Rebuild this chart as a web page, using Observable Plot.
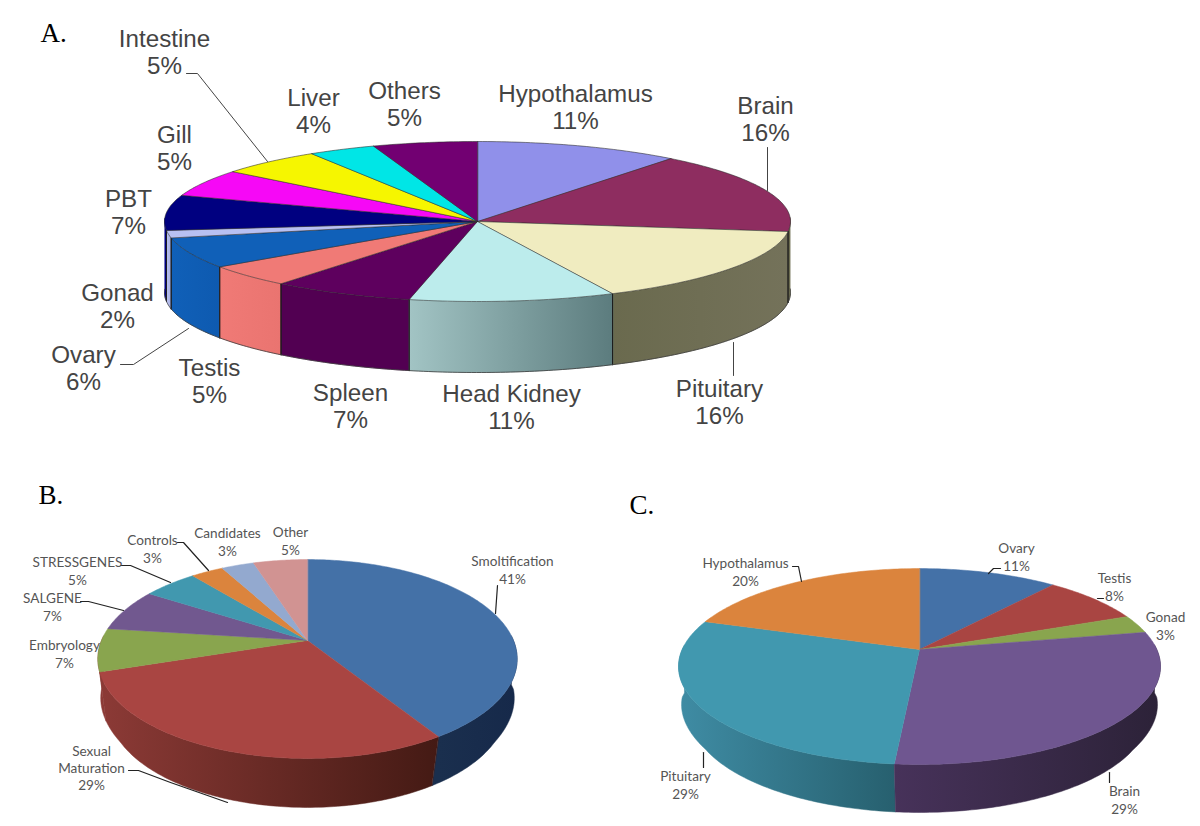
<!DOCTYPE html>
<html>
<head>
<meta charset="utf-8">
<style>html,body{margin:0;padding:0;background:#fff}svg{display:block}</style>
<script src="https://cdn.jsdelivr.net/npm/d3@7"></script>
<script src="https://cdn.jsdelivr.net/npm/@observablehq/plot@0.6"></script>
</head>
<body>
<script>
const aCategories = ["Hypothalamus","Brain","Pituitary","Head Kidney","Spleen","Testis","Ovary","Gonad","PBT","Gill","Intestine","Liver","Others"];
const aValues     = [10.6,16.4,15.9,10.6,7.3,4.6,6.3,1.5,7.1,5.4,5.4,3.5,5.4];
const bCategories = ["Smoltification","Sexual Maturation","Embryology","SALGENE","STRESSGENES","Controls","Candidates","Other"];
const bValues     = [41,29,7,7,5,3,3,5];
const cCategories = ["Ovary","Testis","Gonad","Brain","Pituitary","Hypothalamus"];
const cValues     = [11,8,3,29.4,28.6,20];

// ---- styles ----
const aTop  = ["#9090ea","#8e2d60","#f0ecc0","#bcecec","#5e005e","#f07a76","#1060b8","#b8c0f2","#000080","#f608f6","#f6f600","#00e6e6","#720072"];
const aWall = [["#9090ea","#9090ea"],["#6a6a4e","#6a6a4e"],["#6a6a4e","#74725a"],["#a2c4c4","#5c7c7e"],["#520052","#520052"],["#f07a76","#ea7470"],["#1060b8","#0e5ab0"],["#b8c0f2","#a8b0e0"],["#000080","#000080"],["#f608f6","#f608f6"],["#f6f600","#f6f600"],["#00e6e6","#00e6e6"],["#720072","#720072"]];
const bTop  = ["#4471a7","#a94542","#89a54e","#71588f","#4198af","#db843d","#93a9cf","#d19392"];
const bWall = [["#1a2f4e","#16294a"],["#8c3a36","#441a14"],["#8c3a36","#8c3a36"],["#56436e","#56436e"],["#327688","#327688"],["#a96430","#a96430"],["#7080a0","#7080a0"],["#a07070","#a07070"]];
const cTop  = ["#4471a7","#a94542","#89a54e","#6f5690","#4198af","#db843d"];
const cWall = [["#1a2f4e","#1a2f4e"],["#5a2422","#5a2422"],["#445226","#445226"],["#47325a","#2c2238"],["#3f8ca4","#27606f"],["#a96430","#a96430"]];

// ---- layout ----
const geomA = {cx:477,cy:221,sx:313,sy:80,k:0,depth:71,taper:0};
const geomB = {cx:307,cy:640,sx:206,sy:96,k:0.186,depth:49,taper:0.1};
const geomC = {cx:919,cy:649,sx:237.3,sy:95,k:0.1736,depth:48,taper:0.1};

const aLabelX = [575,765,719,511,350,209,83,117,128,174,164,313,404];
const aLabelY = [107,119,402,407,406,381,368,306,212,148,52,111,104];
const bLabelX = [512,91,64,52,77,152,227,290];
const bLabelY = [569,767,653,606,570,548,541,540];
const cLabelX = [1016,1114,1165,1124,685,745];
const cLabelY = [556,586,625,799,784,571];

const leaders = [
  [[186,73],[197,73],[267,161]],
  [[767,147],[767,190]],
  [[733,342],[733,375]],
  [[120,364],[133,364],[188,328]],
  [[177,542],[183,542],[208,570]],
  [[120,565],[130,565],[170,582]],
  [[80,601],[88,601],[123,610]],
  [[128,770],[138,770],[170,782],[227,802]],
  [[497,585],[495,613]],
  [[792,566],[798,566],[801,581]],
  [[703,752],[703,767]],
  [[1000,568],[993,568],[988,573]],
  [[1103,598],[1097,598]],
  [[1109,772],[1109,782]]
];
const panelLetters = [{t:"A.",x:40,y:33},{t:"B.",x:38,y:495},{t:"C.",x:629,y:505}];

// ---- geometry: fraction of the pie -> plot position under a tilted-disc view ----
function project(g, f, lower) {
  const th = 2 * Math.PI * f, u = Math.sin(th), v = -Math.cos(th), w = 1 - g.k * v;
  const X = u / w * (lower ? 1 - g.taper * Math.min(Math.max(v, 0), 0.5) : 1), Y = v / w;
  return {x: g.cx + g.sx * X, y: g.cy + g.sy * Y + (lower ? g.depth : 0), v};
}
let id = 0;
const gradients = [];
function buildPie(values, top, wall, g, edged) {
  const total = d3.sum(values);
  const tops = [], wallGroups = [], seams = [], rims = [];
  let acc = 0;
  values.forEach((val, i) => {
    const f0 = acc / total, f1 = (acc + val) / total; acc += val;
    const n = Math.max(2, Math.ceil((f1 - f0) * 400));
    const fs = d3.range(n + 1).map(j => f0 + (f1 - f0) * j / n);
    // top face
    const tid = id++;
    const stroke = edged ? "#2a2a2a" : top[i];
    tops.push({id: tid, x: g.cx, y: g.cy, fill: top[i], stroke});
    fs.forEach(f => { const p = project(g, f, false); tops.push({id: tid, x: p.x, y: p.y, fill: top[i], stroke}); });
    // side wall: the front-facing part of the slice, shaded left to right
    const front = fs.filter(f => project(g, f, false).v > -0.05);
    if (front.length > 1) {
      const upper = front.map(f => project(g, f, false)), lower = front.map(f => project(g, f, true));
      const xs = upper.map(p => p.x);
      const gid = "wall-" + gradients.length;
      gradients.push({id: gid, x1: d3.min(xs), x2: d3.max(xs), c1: wall[i][0], c2: wall[i][1]});
      const wid = id++, order = d3.mean(upper, p => p.v);
      wallGroups.push({order, pts: [...upper, ...lower.reverse()].map(p => ({id: wid, x: p.x, y: p.y, fill: `url(#${gid})`}))});
      const rid = id++;
      front.forEach(f => { const q = project(g, f, true); rims.push({id: rid, x: q.x, y: q.y}); });
      [f0, f1].forEach(f => {
        const p = project(g, f, false);
        if (p.v > 0) { const q = project(g, f, true), s = id++; seams.push({id: s, x: p.x, y: p.y}, {id: s, x: q.x, y: q.y}); }
      });
    }
  });
  wallGroups.sort((a, b) => a.order - b.order);
  return {tops, walls: wallGroups.flatMap(d => d.pts), seams, rims};
}

const pieA = buildPie(aValues, aTop, aWall, geomA, true);
const pieB = buildPie(bValues, bTop, bWall, geomB, false);
const pieC = buildPie(cValues, cTop, cWall, geomC, false);

const pct = v => Math.round(v) + "%";
const labelsA = aCategories.map((n, i) => ({t: n + "\n" + pct(aValues[i]), x: aLabelX[i], y: aLabelY[i]}));
const labelsBC = [
  ...bCategories.map((n, i) => ({t: n.replace("Sexual ", "Sexual\n") + "\n" + pct(bValues[i]), x: bLabelX[i], y: bLabelY[i]})),
  ...cCategories.map((n, i) => ({t: n + "\n" + pct(cValues[i]), x: cLabelX[i], y: cLabelY[i]}))
];
const leaderPts = leaders.flatMap((pts, i) => pts.map(p => ({id: i, x: p[0], y: p[1]})));

const poly = (data, extra = {}) => Plot.line(data, {x: "x", y: "y", z: "id", curve: "linear-closed", fill: "fill", ...extra});

// gradient definitions placed through the plot's own x scale
const gradientDefs = (index, scales) => {
  const defs = d3.create("svg:defs");
  const grads = defs.selectAll("linearGradient").data(gradients).join("linearGradient")
    .attr("id", d => d.id).attr("gradientUnits", "userSpaceOnUse")
    .attr("x1", d => scales.x(d.x1)).attr("x2", d => scales.x(d.x2)).attr("y1", 0).attr("y2", 0);
  grads.append("stop").attr("offset", 0).attr("stop-color", d => d.c1);
  grads.append("stop").attr("offset", 1).attr("stop-color", d => d.c2);
  return defs.node();
};

const chart = Plot.plot({
  width: 1200, height: 826, margin: 0,
  x: {domain: [0, 1200], range: [0, 1200], axis: null},
  y: {domain: [0, 826], range: [0, 826], axis: null},
  color: {type: "identity"},
  style: {background: "#fff"},
  marks: [
    gradientDefs,
    poly([...pieA.walls, ...pieB.walls, ...pieC.walls], {stroke: "fill", strokeWidth: 0.5}),
    Plot.line(pieA.seams, {x: "x", y: "y", z: "id", stroke: "#1c1c1c", strokeWidth: 0.9}),
    Plot.line(pieA.rims, {x: "x", y: "y", z: "id", stroke: "#3a3a3a", strokeWidth: 0.8}),
    poly(pieB.tops, {stroke: "stroke", strokeWidth: 0.5}),
    poly(pieC.tops, {stroke: "stroke", strokeWidth: 0.5}),
    poly(pieA.tops, {stroke: "stroke", strokeWidth: 0.7, strokeOpacity: 0.8}),
    Plot.line(leaderPts.filter(d => d.id < 4), {x: "x", y: "y", z: "id", stroke: "#444", strokeWidth: 1}),
    Plot.line(leaderPts.filter(d => d.id >= 4), {x: "x", y: "y", z: "id", stroke: "#222", strokeWidth: 1.2}),
    Plot.text(labelsA, {x: "x", y: "y", text: "t", fontFamily: "Liberation Sans", fontSize: 24.2, lineHeight: 1.12, fill: "#444", lineAnchor: "middle", dy: -1}),
    Plot.text(labelsBC, {x: "x", y: "y", text: "t", fontFamily: "Lato", fontSize: 13.6, lineHeight: 1.27, fill: "#555", lineAnchor: "middle"}),
    Plot.text(panelLetters, {x: "x", y: "y", text: "t", fontFamily: "Liberation Serif", fontSize: 27, fill: "#000", textAnchor: "start", lineAnchor: "middle"})
  ]
});
document.body.appendChild(chart);
</script>
</body>
</html>
